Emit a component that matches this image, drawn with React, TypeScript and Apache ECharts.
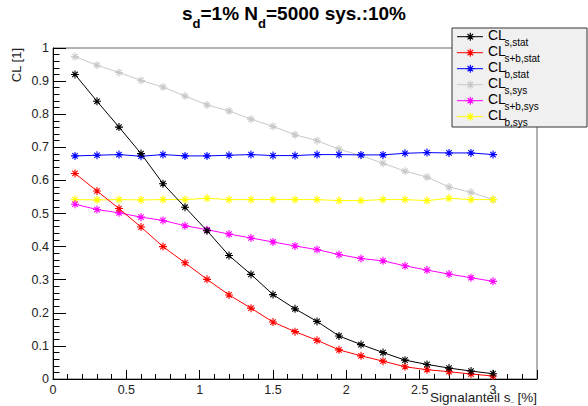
import React, { useEffect, useRef } from "react";
import * as echarts from "echarts";

const xValues = [0.15, 0.3, 0.45, 0.6, 0.75, 0.9, 1.05, 1.2, 1.35, 1.5, 1.65, 1.8, 1.95, 2.1, 2.25, 2.4, 2.55, 2.7, 2.85, 3.0];

const clsStat = [0.920, 0.839, 0.761, 0.681, 0.590, 0.519, 0.448, 0.373, 0.316, 0.255, 0.212, 0.174, 0.130, 0.104, 0.080, 0.057, 0.044, 0.033, 0.024, 0.016];
const clsbStat = [0.621, 0.568, 0.515, 0.459, 0.400, 0.351, 0.301, 0.254, 0.214, 0.172, 0.143, 0.117, 0.088, 0.070, 0.054, 0.037, 0.028, 0.022, 0.015, 0.009];
const clbStat = [0.674, 0.676, 0.678, 0.673, 0.678, 0.674, 0.674, 0.676, 0.678, 0.675, 0.675, 0.678, 0.678, 0.677, 0.677, 0.682, 0.684, 0.683, 0.683, 0.678];
const clsSys = [0.974, 0.948, 0.926, 0.902, 0.882, 0.855, 0.828, 0.810, 0.785, 0.763, 0.738, 0.720, 0.694, 0.675, 0.652, 0.628, 0.610, 0.580, 0.564, 0.542];
const clsbSys = [0.528, 0.512, 0.502, 0.489, 0.479, 0.463, 0.451, 0.438, 0.426, 0.414, 0.402, 0.391, 0.376, 0.364, 0.357, 0.342, 0.329, 0.317, 0.306, 0.295];
const clbSys = [0.542, 0.541, 0.542, 0.541, 0.542, 0.542, 0.546, 0.542, 0.542, 0.542, 0.542, 0.542, 0.539, 0.539, 0.542, 0.542, 0.539, 0.546, 0.542, 0.542];

const seriesNames = ["s,stat", "s+b,stat", "b,stat", "s,sys", "s+b,sys", "b,sys"];
const seriesColors = ["#000000", "#ff0000", "#0000ff", "#c8c8c8", "#ff00ff", "#ffff00"];
const seriesData = [clsStat, clsbStat, clbStat, clsSys, clsbSys, clbSys];

const FONT = "Liberation Sans";
const STAR_D = "M0,5L10,5M5,0L5,10M1.6,1.6L8.4,8.4M8.4,1.6L1.6,8.4";
const STAR = "path://" + STAR_D;

echarts.graphic.registerShape("legendStar", echarts.graphic.extendPath(STAR_D, {}));

const LEG_STAR_X = 470.3;
const LEG_LINE_X1 = 457;
const LEG_LINE_X2 = 483;
const LEG_TEXT_X = 488;
const LEG_Y0 = 36.7;
const LEG_PITCH = 16;

export default function App() {
  const ref = useRef<HTMLDivElement>(null);
  useEffect(() => {
    if (!ref.current) return;
    const chart = echarts.init(ref.current, null, { renderer: "svg" });
    const order = [3, 5, 4, 2, 1, 0];
    const series = order.map((i, k) => ({
      name: seriesNames[i],
      type: "line",
      data: xValues.map((x, j) => [x, seriesData[i][j]]),
      symbol: STAR,
      symbolSize: 8,
      showSymbol: true,
      lineStyle: { color: seriesColors[i], width: 1 },
      itemStyle: { color: seriesColors[i], borderColor: seriesColors[i], borderWidth: 1.1 },
      z: 2 + k * 0.01,
    }));

    const legendItems: any[] = [];
    seriesNames.forEach((name, i) => {
      const cy = LEG_Y0 + i * LEG_PITCH;
      legendItems.push({
        type: "line",
        z: 11,
        shape: { x1: LEG_LINE_X1, y1: cy, x2: LEG_LINE_X2, y2: cy },
        style: { stroke: seriesColors[i], lineWidth: 1 },
      });
      legendItems.push({
        type: "legendStar",
        z: 12,
        x: LEG_STAR_X - 4,
        y: cy - 4,
        scaleX: 0.8,
        scaleY: 0.8,
        style: { fill: "none", stroke: seriesColors[i], lineWidth: 1.4 },
      });
      legendItems.push({
        type: "text",
        z: 12,
        x: LEG_TEXT_X,
        y: cy - 1.5,
        style: { text: "CL", fontFamily: FONT, fontSize: 14, fill: "#000", align: "left", verticalAlign: "middle" },
      });
      legendItems.push({
        type: "text",
        z: 12,
        x: LEG_TEXT_X + 16.5,
        y: cy + 5.5,
        style: { text: name, fontFamily: FONT, fontSize: 10, fill: "#000", align: "left", verticalAlign: "middle" },
      });
    });

    chart.setOption({
      animation: false,
      backgroundColor: "#ffffff",
      textStyle: { fontFamily: FONT },
      title: {
        left: "center",
        top: 9,
        padding: 0,
        text: "{a|s}{b|d}{a|=1% N}{b|d}{a|=5000 sys.:10%}",
        textStyle: {
          rich: {
            a: { fontFamily: FONT, fontSize: 19, lineHeight: 19, padding: [0, 0, 10, 0], color: "#000" },
            b: { fontFamily: FONT, fontSize: 13, lineHeight: 13, padding: [10, 0, 0, 0], color: "#000" },
          },
        },
      },
      grid: {
        left: 53,
        top: 48,
        right: 51,
        bottom: 27,
        show: true,
        borderColor: "#666",
        borderWidth: 1,
        backgroundColor: "transparent",
      },
      legend: { show: false, data: seriesNames },
      xAxis: {
        type: "value",
        min: 0,
        max: 3.3,
        interval: 0.5,
        axisLine: { show: true, onZero: false, lineStyle: { color: "#000", width: 1 } },
        axisTick: { show: true, inside: true, length: 9, lineStyle: { color: "#000" } },
        minorTick: { show: true, splitNumber: 5, length: 5, lineStyle: { color: "#000" } },
        splitLine: { show: false },
        axisLabel: { showMaxLabel: false, color: "#222", fontSize: 12.5, fontFamily: FONT, margin: 4 },
      },
      yAxis: {
        type: "value",
        min: 0,
        max: 1,
        interval: 0.1,
        axisLine: { show: true, onZero: false, lineStyle: { color: "#000", width: 1 } },
        axisTick: { show: true, inside: true, length: 13, lineStyle: { color: "#000" } },
        minorTick: { show: true, splitNumber: 5, length: 6.5, lineStyle: { color: "#000" } },
        splitLine: { show: false },
        axisLabel: { color: "#222", fontSize: 12.5, fontFamily: FONT, margin: 4 },
      },
      graphic: [
        {
          type: "rect",
          z: 10,
          shape: { x: 452, y: 28, width: 135, height: 99 },
          style: { fill: "#f0f0f0", stroke: "#333", lineWidth: 1 },
        },
        ...legendItems,
        {
          type: "text",
          z: 10,
          x: 16,
          y: 48,
          rotation: Math.PI / 2,
          style: { text: "CL [1]", fontFamily: FONT, fontSize: 13, fill: "#222", align: "right", verticalAlign: "middle" },
        },
        {
          type: "text",
          z: 10,
          x: 537,
          y: 390,
          style: {
            text: "{a|Signalanteil s}{b|_}{a| [%]}",
            align: "right",
            verticalAlign: "top",
            rich: {
              a: { fontFamily: FONT, fontSize: 13.5, fill: "#222" },
              b: { fontFamily: FONT, fontSize: 6, fill: "#222", padding: [6, 0, 0, 0] },
            },
          },
        },
      ],
      series,
    });
    return () => chart.dispose();
  }, []);
  return <div ref={ref} style={{ width: 588, height: 406, position: "absolute", left: 0, top: 0 }} />;
}
